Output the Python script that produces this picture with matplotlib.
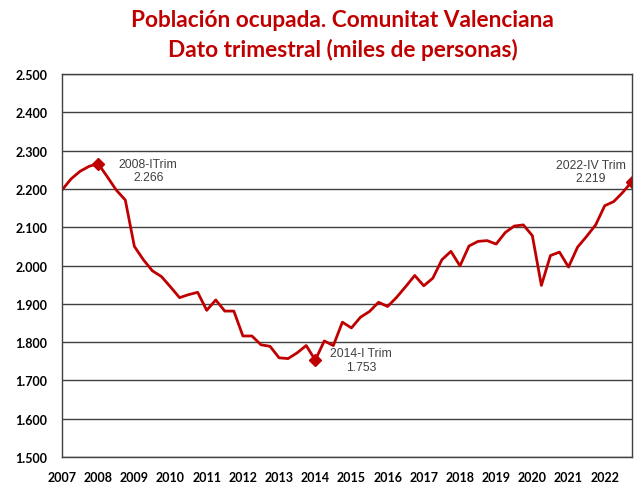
import matplotlib.pyplot as plt
from matplotlib.ticker import FuncFormatter

# quarterly employed population, thousands (2007-I .. 2022-IV)
ocupados = [2197, 2226, 2246, 2259, 2266, 2232, 2197, 2171,
            2050, 2015, 1986, 1971, 1944, 1916, 1924, 1930,
            1883, 1910, 1881, 1881, 1816, 1816, 1793, 1789,
            1759, 1757, 1772, 1791, 1753, 1803, 1791, 1852,
            1837, 1865, 1880, 1904, 1893, 1917, 1945, 1974,
            1947, 1967, 2015, 2037, 1999, 2051, 2063, 2065,
            2056, 2086, 2103, 2106, 2078, 1948, 2026, 2035,
            1996, 2048, 2076, 2106, 2156, 2167, 2191, 2219]
years = list(range(2007, 2023))
y_ticks = list(range(1500, 2501, 100))

# highlighted points: (quarter index, label)
highlights = [(4, '2008-ITrim'), (28, '2014-I Trim'), (63, '2022-IV Trim')]

red = '#C00000'


def miles(v):
    return f'{int(v):,}'.replace(',', '.')


fig = plt.figure(figsize=(6.41, 4.89), dpi=100)
ax = fig.add_axes([0.0967, 0.0634, 0.889, 0.7832])

x = list(range(len(ocupados)))
ax.plot(x, ocupados, color=red, linewidth=2)

for i, name in highlights:
    ax.plot(i, ocupados[i], marker='D', color=red, markersize=6)

# annotation texts
offsets = [(36, -5), (33, 0), (-29.5, 7.5)]
for (i, name), off in zip(highlights, offsets):
    ax.annotate(name + '\n' + miles(ocupados[i]),
                xy=(i, ocupados[i]), xytext=off, textcoords='offset points',
                ha='center', va='center', fontsize=8.8, color='#404040',
                family='Liberation Sans', linespacing=1.15)

ax.set_xlim(0, 63)
ax.set_ylim(1500, 2500)
ax.set_yticks(y_ticks)
ax.yaxis.set_major_formatter(FuncFormatter(lambda v, p: miles(v)))
ax.set_xticks([4 * k for k in range(len(years))])
ax.set_xticklabels([str(y) for y in years])
ax.tick_params(length=0, labelsize=9)
ax.tick_params(axis='y', pad=10.5)
ax.tick_params(axis='x', pad=10)
for lab in ax.get_xticklabels() + ax.get_yticklabels():
    lab.set_family('Lato')
    lab.set_fontweight('bold')

ax.grid(axis='y', color='#404040', linewidth=1)
ax.set_axisbelow(True)
for s in ax.spines.values():
    s.set_color('#404040')
    s.set_linewidth(1)

fig.text(0.535, 0.958, 'Población ocupada. Comunitat Valenciana', ha='center', va='center',
         fontsize=16.3, fontweight='bold', color=red, family='Lato')
fig.text(0.535, 0.898, 'Dato trimestral (miles de personas)', ha='center', va='center',
         fontsize=16.3, fontweight='bold', color=red, family='Lato')

fig.savefig('out.png', dpi=100)
